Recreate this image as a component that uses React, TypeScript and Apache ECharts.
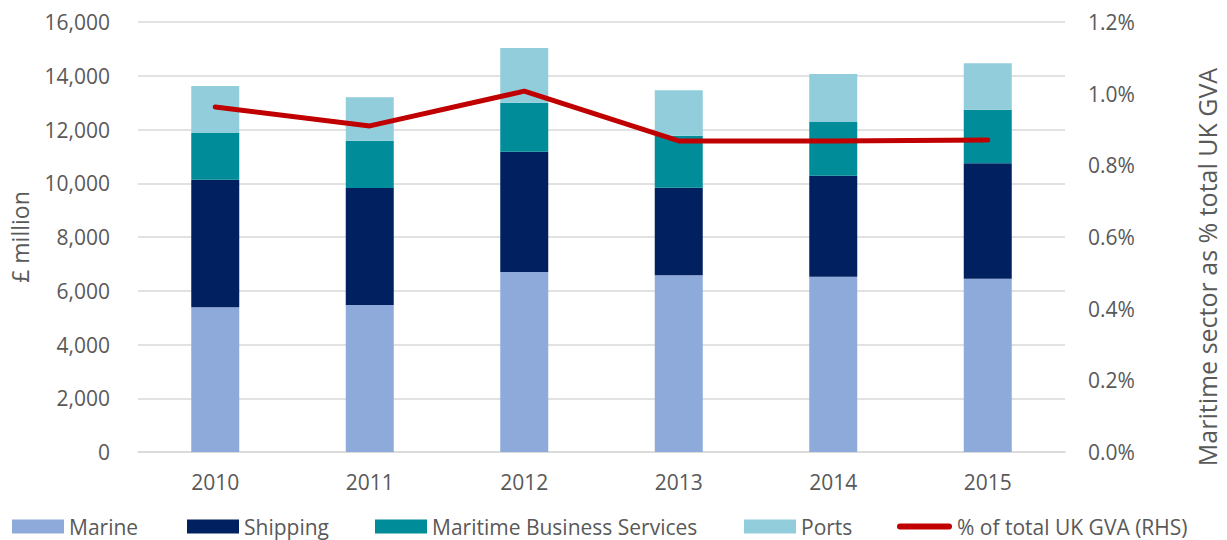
import React, { useEffect, useRef } from "react";
import * as echarts from "echarts";

const years = ["2010", "2011", "2012", "2013", "2014", "2015"];
const marine = [5384, 5470, 6698, 6575, 6523, 6448];
const shipping = [4748, 4353, 4476, 3260, 3758, 4294];
const businessServices = [1738, 1761, 1824, 1935, 1998, 1995];
const ports = [1749, 1614, 2035, 1688, 1786, 1726];
const shareOfGva = [0.963, 0.91, 1.007, 0.868, 0.868, 0.871];

const seriesNames = ["Marine", "Shipping", "Maritime Business Services", "Ports", "% of total UK GVA (RHS)"];

const FONT = "'Open Sans', sans-serif";
const TEXT = "#595959";

export default function App() {
  const ref = useRef<HTMLDivElement>(null);
  useEffect(() => {
    if (!ref.current) return;
    const chart = echarts.init(ref.current, null, { renderer: "svg" });
    const barBase = { type: "bar", stack: "gva", barWidth: 48, yAxisIndex: 0 };
    const legendLefts = [12, 187, 375, 744, 897];
    const lineIcon = "path://M3,0 H52 A3,3 0 0 1 52,6 H3 A3,3 0 0 1 3,0 Z";
    const legends = seriesNames.map((name, i) => ({
      left: legendLefts[i],
      top: 516,
      padding: 0,
      itemWidth: i === 4 ? 55 : 52,
      itemHeight: i === 4 ? 6 : 14,
      icon: i === 4 ? lineIcon : "rect",
      textStyle: { fontSize: 21, color: TEXT, fontFamily: FONT },
      data: [name],
    }));
    chart.setOption({
      animation: false,
      textStyle: { fontFamily: FONT, color: TEXT },
      grid: { left: 137, right: 162, top: 22, bottom: 88 },
      legend: legends,
      xAxis: {
        type: "category",
        data: years,
        axisLine: { lineStyle: { color: "#D9D9D9", width: 1.5 } },
        axisTick: { show: false },
        axisLabel: { fontSize: 21, color: TEXT, margin: 19, fontFamily: FONT },
      },
      yAxis: [
        {
          type: "value",
          min: 0,
          max: 16000,
          interval: 2000,
          name: "£ million",
          nameLocation: "middle",
          nameGap: 107,
          nameTextStyle: { fontSize: 23, color: TEXT, fontFamily: FONT },
          axisLabel: {
            fontSize: 21,
            color: TEXT,
            margin: 28,
            fontFamily: FONT,
            formatter: (v: number) => v.toLocaleString("en-GB"),
          },
          axisLine: { show: false },
          axisTick: { show: false },
          splitLine: { lineStyle: { color: "#D9D9D9", width: 1.5 } },
        },
        {
          type: "value",
          min: 0,
          max: 1.2,
          interval: 0.2,
          position: "right",
          axisLabel: {
            fontSize: 21,
            color: TEXT,
            margin: 23,
            fontFamily: FONT,
            formatter: (v: number) => v.toFixed(1) + "%",
          },
          axisLine: { show: false },
          axisTick: { show: false },
          splitLine: { show: false },
        },
      ],
      graphic: [
        {
          type: "text",
          x: 1207,
          y: 267,
          rotation: Math.PI / 2,
          style: {
            text: "Maritime sector as % total UK GVA",
            fontSize: 25,
            fontFamily: FONT,
            fill: TEXT,
            textAlign: "center",
            textVerticalAlign: "middle",
          },
        },
      ],
      series: [
        { ...barBase, name: seriesNames[0], data: marine, itemStyle: { color: "#8EAADB" } },
        { ...barBase, name: seriesNames[1], data: shipping, itemStyle: { color: "#002060" } },
        { ...barBase, name: seriesNames[2], data: businessServices, itemStyle: { color: "#008C99" } },
        { ...barBase, name: seriesNames[3], data: ports, itemStyle: { color: "#92CDDC" } },
        {
          type: "line",
          name: seriesNames[4],
          yAxisIndex: 1,
          data: shareOfGva,
          symbol: "none",
          itemStyle: { color: "#C00000" },
          lineStyle: { color: "#C00000", width: 5, cap: "round", join: "round" },
        },
      ],
    });
    return () => chart.dispose();
  }, []);
  return (
    <div
      ref={ref}
      style={{ position: "fixed", left: 0, top: 0, width: 1227, height: 540, background: "#fff" }}
    />
  );
}
